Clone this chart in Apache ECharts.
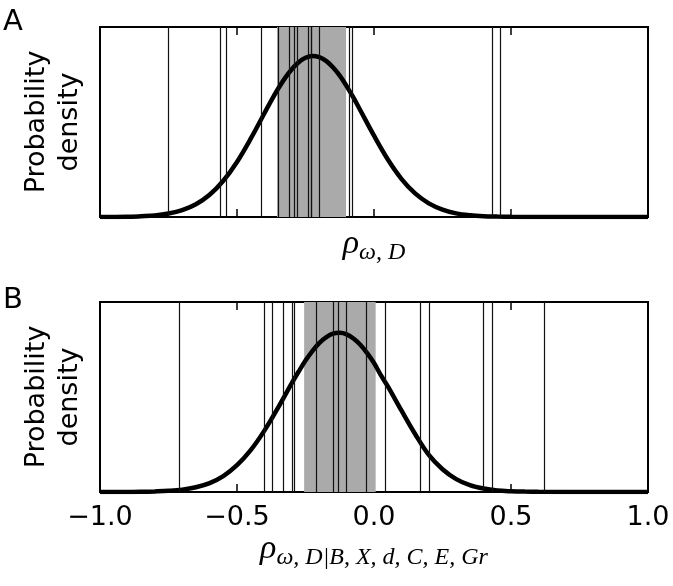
<!DOCTYPE html>
<html><head><meta charset="utf-8">
<script src="https://cdn.jsdelivr.net/npm/echarts@6/dist/echarts.min.js"></script>
<style>html,body{margin:0;padding:0;background:#fff}#c{width:673px;height:586px}</style>
</head><body><div id="c"></div>
<script>
// Panel A data
const curveAx = [-1.0,-0.9,-0.85,-0.8,-0.75,-0.7,-0.65,-0.6,-0.55,-0.5,-0.45,-0.4,-0.375,-0.35,-0.325,-0.3,-0.275,-0.25,-0.225,-0.2,-0.175,-0.15,-0.125,-0.1,-0.075,-0.05,0.0,0.05,0.1,0.15,0.2,0.25,0.3,0.35,0.4,0.45,0.5,0.6,0.8,1.0];
const curveAy = [0.0,0.001,0.004,0.008,0.018,0.036,0.067,0.117,0.191,0.290,0.412,0.546,0.613,0.675,0.731,0.778,0.815,0.838,0.847,0.841,0.822,0.788,0.744,0.689,0.628,0.562,0.428,0.304,0.201,0.124,0.072,0.039,0.019,0.009,0.004,0.002,0.001,0.0,0.0,0.0];
const linesA = [-0.748,-0.562,-0.538,-0.406,-0.347,-0.310,-0.292,-0.276,-0.245,-0.234,-0.226,-0.195,-0.088,-0.076,0.426,0.456];
const bandA = [-0.354,-0.102];
// Panel B data
const curveBx = [-1.0,-0.9,-0.85,-0.8,-0.75,-0.7,-0.65,-0.6,-0.55,-0.5,-0.45,-0.4,-0.35,-0.3,-0.275,-0.25,-0.225,-0.2,-0.175,-0.15,-0.125,-0.1,-0.075,-0.05,-0.025,0.0,0.025,0.05,0.1,0.15,0.2,0.25,0.3,0.35,0.4,0.45,0.5,0.55,0.6,0.8,1.0];
const curveBy = [0.0,0.0,0.001,0.003,0.006,0.012,0.025,0.047,0.084,0.141,0.220,0.323,0.444,0.573,0.634,0.692,0.742,0.784,0.814,0.833,0.838,0.830,0.808,0.775,0.731,0.679,0.615,0.557,0.429,0.305,0.195,0.120,0.068,0.036,0.018,0.008,0.004,0.002,0.001,0.0,0.0];
const linesB = [-0.708,-0.403,-0.367,-0.328,-0.302,-0.287,-0.209,-0.154,-0.133,-0.104,-0.034,0.039,0.168,0.204,0.395,0.433,0.623];
const bandB = [-0.255,0.006];
const panelLabels = ['A','B'];
const yName = 'Probability\ndensity';

const chart = echarts.init(document.getElementById('c'));
const fmt = v => (v < 0 ? '\u2212' : '') + Math.abs(v).toFixed(1);
const grids = [
  {left:100, right:25, top:27, height:190, show:true, borderColor:'#000', borderWidth:2, backgroundColor:'#fff'},
  {left:100, right:25, top:302, height:190, show:true, borderColor:'#000', borderWidth:2, backgroundColor:'#fff'}
];
const richName = {
  r:{fontFamily:'Liberation Serif', fontStyle:'italic', fontSize:34, color:'#000'},
  s:{fontFamily:'Liberation Serif', fontStyle:'italic', fontSize:24, color:'#000', padding:[18,0,0,0]}
};
function xAxisBottom(g, showLabels, name){
  return {type:'value', gridIndex:g, min:-1, max:1, interval:0.5, position:'bottom',
    axisLine:{show:false}, splitLine:{show:false},
    axisTick:{show:true, inside:true, length:8, lineStyle:{color:'#000', width:1.5}},
    axisLabel:{show:showLabels, formatter:fmt, fontFamily:'DejaVu Sans', fontSize:27, color:'#000', margin:12},
    name:name, nameLocation:'middle', nameGap: showLabels ? 33 : 6,
    nameTextStyle:{rich:richName}};
}
function xAxisTop(g){
  return {type:'value', gridIndex:g, min:-1, max:1, interval:0.5, position:'top',
    axisLine:{show:false}, splitLine:{show:false}, axisLabel:{show:false},
    axisTick:{show:true, inside:true, length:8, lineStyle:{color:'#000', width:1.5}}};
}
function yAxis(g){
  return {type:'value', gridIndex:g, min:0, max:1, axisLine:{show:false}, axisTick:{show:false},
    axisLabel:{show:false}, splitLine:{show:false},
    name:yName, nameLocation:'middle', nameRotate:90, nameGap:14,
    nameTextStyle:{fontFamily:'DejaVu Sans', fontSize:27, color:'#000', lineHeight:33}};
}
function panelSeries(g, cx, cy, lines, band){
  const xi = g*2, yi = g;
  return [
    {type:'line', xAxisIndex:xi, yAxisIndex:yi, data:[], z:1, silent:true,
     markArea:{silent:true, itemStyle:{color:'#aaaaaa', opacity:1}, data:[[{xAxis:band[0]},{xAxis:band[1]}]]}},
    {type:'line', xAxisIndex:xi, yAxisIndex:yi, data:[], z:2, silent:true,
     markLine:{silent:true, symbol:['none','none'], label:{show:false}, animation:false,
       lineStyle:{color:'#111', width:1.2, type:'solid'}, data:lines.map(v=>({xAxis:v}))}},
    {type:'line', xAxisIndex:xi, yAxisIndex:yi, z:3, smooth:0.35, showSymbol:false, silent:true,
     lineStyle:{color:'#000', width:4.5}, data:cx.map((x,i)=>[x, cy[i]])}
  ];
}
chart.setOption({
  animation:false,
  grid:grids,
  xAxis:[xAxisBottom(0,false,'{r|ρ}{s|ω, D}'), xAxisTop(0), xAxisBottom(1,true,'{r|ρ}{s|ω, D|B, X, d, C, E, Gr}'), xAxisTop(1)],
  yAxis:[yAxis(0), yAxis(1)],
  graphic:[
    {type:'text', left:3, top:8, style:{text:panelLabels[0], fontFamily:'DejaVu Sans', fontSize:29, fill:'#000'}},
    {type:'text', left:3, top:286, style:{text:panelLabels[1], fontFamily:'DejaVu Sans', fontSize:29, fill:'#000'}}
  ],
  series:[...panelSeries(0, curveAx, curveAy, linesA, bandA), ...panelSeries(1, curveBx, curveBy, linesB, bandB)]
});
</script></body></html>
